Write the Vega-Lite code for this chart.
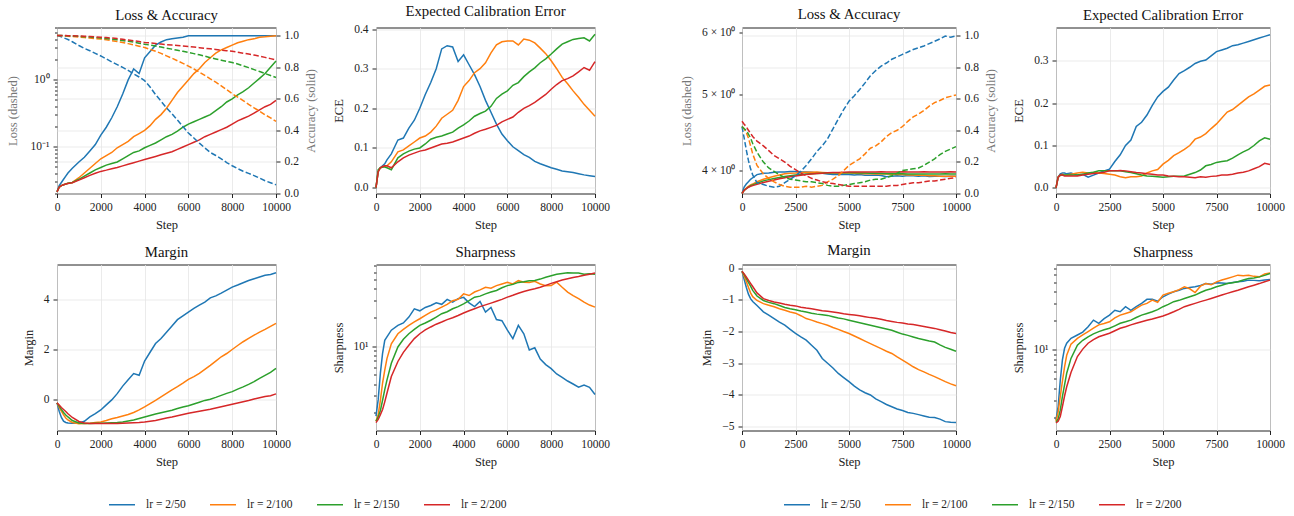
{
"$schema": "https://vega.github.io/schema/vega-lite/v6.json",
"padding": {"left": 5, "top": 2.5, "right": 8, "bottom": 3},
"background": "white",
"config": {
 "font": "Liberation Serif",
 "view": {"stroke": "#222", "strokeWidth": 1},
 "text": {"font": "Liberation Serif"},
 "style": {"group-title": {"font": "Liberation Serif", "fontSize": 14.8, "fontWeight": "normal", "fill": "#111"}, "guide-label": {"font": "Liberation Serif", "fontSize": 11.5, "fill": "#222"}, "guide-title": {"font": "Liberation Serif", "fontSize": 12.5, "fontWeight": "normal"}},
 "title": {"font": "Liberation Serif", "fontSize": 14.8, "fontWeight": "normal", "color": "#111", "anchor": "middle", "frame": "group", "baseline": "alphabetic", "offset": 4.5},
 "axis": {"labelFont": "Liberation Serif", "titleFont": "Liberation Serif", "labelFontSize": 11.5, "titleFontSize": 12.5, "labelColor": "#222", "titleColor": "#222", "titleFontWeight": "normal", "grid": true, "gridColor": "#e6e6e6", "gridWidth": 0.8, "domain": false, "ticks": true, "tickColor": "#222", "tickSize": 4, "labelPadding": 4, "labelFlush": false, "labelOverlap": false, "labelBound": false},
 "axisX": {"titlePadding": 5},
 "axisY": {"titlePadding": 8},
 "legend": {"orient": "bottom", "labelFont": "Liberation Serif", "symbolType": "stroke", "symbolStrokeWidth": 2, "symbolSize": 676, "labelFontSize": 11.5, "labelColor": "#222", "columnPadding": 21, "labelOffset": 10, "offset": 22, "layout": {"bottom": {"anchor": "middle"}}},
 "line": {"strokeWidth": 1.5}
},
"datasets": {
"A": [
{"lr":"lr = 2/50","step":0,"loss":4.6,"acc":0.01,"ece":0,"margin":-0.12,"sharp":1.84},
{"lr":"lr = 2/50","step":100,"loss":4.5,"acc":0.05,"ece":0.04,"margin":-0.45,"sharp":2.74},
{"lr":"lr = 2/50","step":200,"loss":4.38,"acc":0.07,"ece":0.05,"margin":-0.7,"sharp":5.2},
{"lr":"lr = 2/50","step":300,"loss":4.25,"acc":0.09,"ece":0.055,"margin":-0.85,"sharp":8.4},
{"lr":"lr = 2/50","step":400,"loss":4.12,"acc":0.11,"ece":0.06,"margin":-0.9,"sharp":11.5},
{"lr":"lr = 2/50","step":500,"loss":4.0,"acc":0.13,"ece":0.07,"margin":-0.92,"sharp":12.5},
{"lr":"lr = 2/50","step":700,"loss":3.7,"acc":0.16,"ece":0.085,"margin":-0.93,"sharp":14.7},
{"lr":"lr = 2/50","step":1000,"loss":3.25,"acc":0.2,"ece":0.12,"margin":-0.92,"sharp":16.5},
{"lr":"lr = 2/50","step":1250,"loss":2.95,"acc":0.23,"ece":0.125,"margin":-0.85,"sharp":17.5},
{"lr":"lr = 2/50","step":1500,"loss":2.72,"acc":0.27,"ece":0.15,"margin":-0.68,"sharp":20.2},
{"lr":"lr = 2/50","step":1750,"loss":2.48,"acc":0.31,"ece":0.17,"margin":-0.55,"sharp":24.6},
{"lr":"lr = 2/50","step":2000,"loss":2.27,"acc":0.37,"ece":0.2,"margin":-0.4,"sharp":23.5},
{"lr":"lr = 2/50","step":2250,"loss":2.05,"acc":0.42,"ece":0.235,"margin":-0.2,"sharp":25.5},
{"lr":"lr = 2/50","step":2500,"loss":1.85,"acc":0.48,"ece":0.265,"margin":0.0,"sharp":26.7},
{"lr":"lr = 2/50","step":2750,"loss":1.68,"acc":0.55,"ece":0.3,"margin":0.25,"sharp":28.5},
{"lr":"lr = 2/50","step":3000,"loss":1.53,"acc":0.63,"ece":0.35,"margin":0.55,"sharp":27.5},
{"lr":"lr = 2/50","step":3250,"loss":1.38,"acc":0.72,"ece":0.358,"margin":0.8,"sharp":31},
{"lr":"lr = 2/50","step":3500,"loss":1.22,"acc":0.79,"ece":0.355,"margin":1.05,"sharp":29},
{"lr":"lr = 2/50","step":3750,"loss":1.1,"acc":0.76,"ece":0.318,"margin":0.98,"sharp":31.5},
{"lr":"lr = 2/50","step":4000,"loss":0.97,"acc":0.86,"ece":0.335,"margin":1.55,"sharp":32.5},
{"lr":"lr = 2/50","step":4250,"loss":0.78,"acc":0.9,"ece":0.31,"margin":1.9,"sharp":28.5},
{"lr":"lr = 2/50","step":4500,"loss":0.6,"acc":0.94,"ece":0.285,"margin":2.25,"sharp":26},
{"lr":"lr = 2/50","step":4750,"loss":0.48,"acc":0.96,"ece":0.255,"margin":2.45,"sharp":29.5},
{"lr":"lr = 2/50","step":5000,"loss":0.38,"acc":0.975,"ece":0.22,"margin":2.7,"sharp":22.8},
{"lr":"lr = 2/50","step":5250,"loss":0.31,"acc":0.98,"ece":0.19,"margin":2.95,"sharp":25.5},
{"lr":"lr = 2/50","step":5500,"loss":0.25,"acc":0.985,"ece":0.16,"margin":3.2,"sharp":19},
{"lr":"lr = 2/50","step":5750,"loss":0.2,"acc":0.99,"ece":0.135,"margin":3.35,"sharp":18.5},
{"lr":"lr = 2/50","step":6000,"loss":0.16,"acc":1.0,"ece":0.118,"margin":3.5,"sharp":14.7},
{"lr":"lr = 2/50","step":6250,"loss":0.135,"acc":1.0,"ece":0.103,"margin":3.65,"sharp":12},
{"lr":"lr = 2/50","step":6500,"loss":0.113,"acc":1.0,"ece":0.093,"margin":3.78,"sharp":16.5},
{"lr":"lr = 2/50","step":6750,"loss":0.096,"acc":1.0,"ece":0.083,"margin":3.9,"sharp":13.5},
{"lr":"lr = 2/50","step":7000,"loss":0.082,"acc":1.0,"ece":0.076,"margin":4.07,"sharp":9.1},
{"lr":"lr = 2/50","step":7250,"loss":0.074,"acc":1.0,"ece":0.066,"margin":4.15,"sharp":9.6},
{"lr":"lr = 2/50","step":7500,"loss":0.066,"acc":1.0,"ece":0.06,"margin":4.26,"sharp":7.3},
{"lr":"lr = 2/50","step":7750,"loss":0.058,"acc":1.0,"ece":0.055,"margin":4.38,"sharp":6.4},
{"lr":"lr = 2/50","step":8000,"loss":0.052,"acc":1.0,"ece":0.05,"margin":4.5,"sharp":5.8},
{"lr":"lr = 2/50","step":8250,"loss":0.047,"acc":1.0,"ece":0.046,"margin":4.58,"sharp":5.1},
{"lr":"lr = 2/50","step":8500,"loss":0.043,"acc":1.0,"ece":0.042,"margin":4.67,"sharp":4.7},
{"lr":"lr = 2/50","step":8750,"loss":0.04,"acc":1.0,"ece":0.04,"margin":4.76,"sharp":4.3},
{"lr":"lr = 2/50","step":9000,"loss":0.037,"acc":1.0,"ece":0.038,"margin":4.83,"sharp":4.0},
{"lr":"lr = 2/50","step":9250,"loss":0.034,"acc":1.0,"ece":0.035,"margin":4.9,"sharp":3.7},
{"lr":"lr = 2/50","step":9500,"loss":0.031,"acc":1.0,"ece":0.032,"margin":4.97,"sharp":3.9},
{"lr":"lr = 2/50","step":9750,"loss":0.029,"acc":1.0,"ece":0.03,"margin":5.0,"sharp":3.7},
{"lr":"lr = 2/50","step":10000,"loss":0.027,"acc":1.0,"ece":0.028,"margin":5.07,"sharp":3.1},
{"lr":"lr = 2/100","step":0,"loss":4.6,"acc":0.01,"ece":0,"margin":-0.12,"sharp":1.63},
{"lr":"lr = 2/100","step":100,"loss":4.58,"acc":0.04,"ece":0.04,"margin":-0.3,"sharp":1.9},
{"lr":"lr = 2/100","step":200,"loss":4.55,"acc":0.05,"ece":0.05,"margin":-0.45,"sharp":2.7},
{"lr":"lr = 2/100","step":300,"loss":4.52,"acc":0.055,"ece":0.052,"margin":-0.6,"sharp":4.1},
{"lr":"lr = 2/100","step":400,"loss":4.5,"acc":0.06,"ece":0.054,"margin":-0.72,"sharp":5.6},
{"lr":"lr = 2/100","step":500,"loss":4.47,"acc":0.065,"ece":0.055,"margin":-0.8,"sharp":7.4},
{"lr":"lr = 2/100","step":700,"loss":4.42,"acc":0.07,"ece":0.065,"margin":-0.9,"sharp":10.6},
{"lr":"lr = 2/100","step":1000,"loss":4.35,"acc":0.1,"ece":0.09,"margin":-0.95,"sharp":13.5},
{"lr":"lr = 2/100","step":1250,"loss":4.28,"acc":0.13,"ece":0.095,"margin":-0.94,"sharp":15},
{"lr":"lr = 2/100","step":1500,"loss":4.2,"acc":0.16,"ece":0.105,"margin":-0.93,"sharp":16.5},
{"lr":"lr = 2/100","step":1750,"loss":4.12,"acc":0.19,"ece":0.115,"margin":-0.9,"sharp":18},
{"lr":"lr = 2/100","step":2000,"loss":4.05,"acc":0.22,"ece":0.125,"margin":-0.88,"sharp":19.4},
{"lr":"lr = 2/100","step":2250,"loss":3.95,"acc":0.24,"ece":0.13,"margin":-0.82,"sharp":21},
{"lr":"lr = 2/100","step":2500,"loss":3.85,"acc":0.26,"ece":0.14,"margin":-0.75,"sharp":22.8},
{"lr":"lr = 2/100","step":2750,"loss":3.72,"acc":0.29,"ece":0.155,"margin":-0.7,"sharp":24},
{"lr":"lr = 2/100","step":3000,"loss":3.6,"acc":0.31,"ece":0.175,"margin":-0.64,"sharp":25.7},
{"lr":"lr = 2/100","step":3250,"loss":3.47,"acc":0.33,"ece":0.185,"margin":-0.58,"sharp":27.5},
{"lr":"lr = 2/100","step":3500,"loss":3.33,"acc":0.36,"ece":0.195,"margin":-0.5,"sharp":30},
{"lr":"lr = 2/100","step":3750,"loss":3.18,"acc":0.38,"ece":0.22,"margin":-0.4,"sharp":31},
{"lr":"lr = 2/100","step":4000,"loss":3.03,"acc":0.4,"ece":0.255,"margin":-0.28,"sharp":35.4},
{"lr":"lr = 2/100","step":4250,"loss":2.85,"acc":0.43,"ece":0.27,"margin":-0.15,"sharp":34},
{"lr":"lr = 2/100","step":4500,"loss":2.67,"acc":0.47,"ece":0.29,"margin":-0.02,"sharp":37},
{"lr":"lr = 2/100","step":4750,"loss":2.48,"acc":0.5,"ece":0.3,"margin":0.12,"sharp":39},
{"lr":"lr = 2/100","step":5000,"loss":2.28,"acc":0.54,"ece":0.315,"margin":0.26,"sharp":41.5},
{"lr":"lr = 2/100","step":5250,"loss":2.1,"acc":0.59,"ece":0.34,"margin":0.4,"sharp":40.5},
{"lr":"lr = 2/100","step":5500,"loss":1.92,"acc":0.64,"ece":0.36,"margin":0.53,"sharp":43.2},
{"lr":"lr = 2/100","step":5750,"loss":1.76,"acc":0.68,"ece":0.368,"margin":0.67,"sharp":45},
{"lr":"lr = 2/100","step":6000,"loss":1.6,"acc":0.72,"ece":0.37,"margin":0.82,"sharp":46.7},
{"lr":"lr = 2/100","step":6250,"loss":1.45,"acc":0.76,"ece":0.37,"margin":0.93,"sharp":45},
{"lr":"lr = 2/100","step":6500,"loss":1.3,"acc":0.79,"ece":0.36,"margin":1.06,"sharp":48.7},
{"lr":"lr = 2/100","step":6750,"loss":1.16,"acc":0.83,"ece":0.375,"margin":1.22,"sharp":47},
{"lr":"lr = 2/100","step":7000,"loss":1.03,"acc":0.86,"ece":0.372,"margin":1.38,"sharp":46.7},
{"lr":"lr = 2/100","step":7250,"loss":0.92,"acc":0.89,"ece":0.365,"margin":1.55,"sharp":48},
{"lr":"lr = 2/100","step":7500,"loss":0.81,"acc":0.91,"ece":0.352,"margin":1.72,"sharp":45},
{"lr":"lr = 2/100","step":7750,"loss":0.71,"acc":0.925,"ece":0.338,"margin":1.85,"sharp":43},
{"lr":"lr = 2/100","step":8000,"loss":0.62,"acc":0.94,"ece":0.32,"margin":2.01,"sharp":43.2},
{"lr":"lr = 2/100","step":8250,"loss":0.55,"acc":0.955,"ece":0.3,"margin":2.17,"sharp":47},
{"lr":"lr = 2/100","step":8500,"loss":0.49,"acc":0.965,"ece":0.278,"margin":2.32,"sharp":41.5},
{"lr":"lr = 2/100","step":8750,"loss":0.43,"acc":0.975,"ece":0.262,"margin":2.45,"sharp":37},
{"lr":"lr = 2/100","step":9000,"loss":0.38,"acc":0.98,"ece":0.244,"margin":2.58,"sharp":34},
{"lr":"lr = 2/100","step":9250,"loss":0.34,"acc":0.99,"ece":0.228,"margin":2.7,"sharp":31.5},
{"lr":"lr = 2/100","step":9500,"loss":0.3,"acc":0.993,"ece":0.21,"margin":2.81,"sharp":29},
{"lr":"lr = 2/100","step":9750,"loss":0.27,"acc":0.997,"ece":0.195,"margin":2.93,"sharp":27},
{"lr":"lr = 2/100","step":10000,"loss":0.24,"acc":1.0,"ece":0.18,"margin":3.05,"sharp":25.7},
{"lr":"lr = 2/150","step":0,"loss":4.6,"acc":0.01,"ece":0,"margin":-0.12,"sharp":1.63},
{"lr":"lr = 2/150","step":100,"loss":4.59,"acc":0.04,"ece":0.045,"margin":-0.25,"sharp":1.8},
{"lr":"lr = 2/150","step":200,"loss":4.58,"acc":0.05,"ece":0.05,"margin":-0.38,"sharp":2.1},
{"lr":"lr = 2/150","step":300,"loss":4.56,"acc":0.055,"ece":0.052,"margin":-0.5,"sharp":2.7},
{"lr":"lr = 2/150","step":400,"loss":4.55,"acc":0.06,"ece":0.052,"margin":-0.6,"sharp":3.5},
{"lr":"lr = 2/150","step":500,"loss":4.53,"acc":0.065,"ece":0.05,"margin":-0.68,"sharp":4.4},
{"lr":"lr = 2/150","step":700,"loss":4.5,"acc":0.07,"ece":0.045,"margin":-0.82,"sharp":6.6},
{"lr":"lr = 2/150","step":1000,"loss":4.45,"acc":0.09,"ece":0.075,"margin":-0.92,"sharp":9.8},
{"lr":"lr = 2/150","step":1250,"loss":4.4,"acc":0.11,"ece":0.085,"margin":-0.94,"sharp":11.8},
{"lr":"lr = 2/150","step":1500,"loss":4.35,"acc":0.13,"ece":0.092,"margin":-0.94,"sharp":13.5},
{"lr":"lr = 2/150","step":1750,"loss":4.28,"acc":0.15,"ece":0.097,"margin":-0.93,"sharp":15},
{"lr":"lr = 2/150","step":2000,"loss":4.2,"acc":0.165,"ece":0.1,"margin":-0.93,"sharp":16.5},
{"lr":"lr = 2/150","step":2250,"loss":4.12,"acc":0.18,"ece":0.11,"margin":-0.92,"sharp":17.5},
{"lr":"lr = 2/150","step":2500,"loss":4.03,"acc":0.19,"ece":0.122,"margin":-0.91,"sharp":18.7},
{"lr":"lr = 2/150","step":2750,"loss":3.95,"acc":0.2,"ece":0.127,"margin":-0.9,"sharp":20.2},
{"lr":"lr = 2/150","step":3000,"loss":3.85,"acc":0.22,"ece":0.13,"margin":-0.88,"sharp":21.9},
{"lr":"lr = 2/150","step":3250,"loss":3.75,"acc":0.24,"ece":0.135,"margin":-0.84,"sharp":23},
{"lr":"lr = 2/150","step":3500,"loss":3.65,"acc":0.26,"ece":0.14,"margin":-0.8,"sharp":24.7},
{"lr":"lr = 2/150","step":3750,"loss":3.52,"acc":0.27,"ece":0.15,"margin":-0.74,"sharp":26},
{"lr":"lr = 2/150","step":4000,"loss":3.4,"acc":0.29,"ece":0.158,"margin":-0.68,"sharp":27.8},
{"lr":"lr = 2/150","step":4250,"loss":3.3,"acc":0.305,"ece":0.168,"margin":-0.62,"sharp":30},
{"lr":"lr = 2/150","step":4500,"loss":3.2,"acc":0.32,"ece":0.18,"margin":-0.56,"sharp":32.7},
{"lr":"lr = 2/150","step":4750,"loss":3.08,"acc":0.34,"ece":0.187,"margin":-0.51,"sharp":33.5},
{"lr":"lr = 2/150","step":5000,"loss":2.97,"acc":0.36,"ece":0.193,"margin":-0.46,"sharp":35.4},
{"lr":"lr = 2/150","step":5250,"loss":2.87,"acc":0.375,"ece":0.205,"margin":-0.41,"sharp":37},
{"lr":"lr = 2/150","step":5500,"loss":2.76,"acc":0.395,"ece":0.225,"margin":-0.34,"sharp":38.4},
{"lr":"lr = 2/150","step":5750,"loss":2.66,"acc":0.42,"ece":0.236,"margin":-0.28,"sharp":41},
{"lr":"lr = 2/150","step":6000,"loss":2.56,"acc":0.44,"ece":0.244,"margin":-0.23,"sharp":43.2},
{"lr":"lr = 2/150","step":6250,"loss":2.46,"acc":0.455,"ece":0.258,"margin":-0.16,"sharp":44.5},
{"lr":"lr = 2/150","step":6500,"loss":2.36,"acc":0.47,"ece":0.265,"margin":-0.09,"sharp":46.7},
{"lr":"lr = 2/150","step":6750,"loss":2.25,"acc":0.485,"ece":0.28,"margin":-0.02,"sharp":47.5},
{"lr":"lr = 2/150","step":7000,"loss":2.14,"acc":0.5,"ece":0.292,"margin":0.03,"sharp":48.7},
{"lr":"lr = 2/150","step":7250,"loss":2.05,"acc":0.525,"ece":0.302,"margin":0.1,"sharp":49},
{"lr":"lr = 2/150","step":7500,"loss":1.96,"acc":0.55,"ece":0.315,"margin":0.18,"sharp":50.6},
{"lr":"lr = 2/150","step":7750,"loss":1.88,"acc":0.58,"ece":0.325,"margin":0.26,"sharp":53},
{"lr":"lr = 2/150","step":8000,"loss":1.81,"acc":0.6,"ece":0.337,"margin":0.33,"sharp":54.9},
{"lr":"lr = 2/150","step":8250,"loss":1.72,"acc":0.625,"ece":0.35,"margin":0.43,"sharp":57},
{"lr":"lr = 2/150","step":8500,"loss":1.62,"acc":0.645,"ece":0.362,"margin":0.52,"sharp":58},
{"lr":"lr = 2/150","step":8750,"loss":1.52,"acc":0.67,"ece":0.368,"margin":0.62,"sharp":59},
{"lr":"lr = 2/150","step":9000,"loss":1.42,"acc":0.7,"ece":0.374,"margin":0.73,"sharp":58.5},
{"lr":"lr = 2/150","step":9250,"loss":1.33,"acc":0.73,"ece":0.376,"margin":0.86,"sharp":58.5},
{"lr":"lr = 2/150","step":9500,"loss":1.24,"acc":0.76,"ece":0.378,"margin":0.98,"sharp":57},
{"lr":"lr = 2/150","step":9750,"loss":1.16,"acc":0.8,"ece":0.37,"margin":1.1,"sharp":57.5},
{"lr":"lr = 2/150","step":10000,"loss":1.08,"acc":0.84,"ece":0.387,"margin":1.26,"sharp":57},
{"lr":"lr = 2/200","step":0,"loss":4.6,"acc":0.01,"ece":0,"margin":-0.12,"sharp":1.57},
{"lr":"lr = 2/200","step":100,"loss":4.6,"acc":0.04,"ece":0.04,"margin":-0.2,"sharp":1.7},
{"lr":"lr = 2/200","step":200,"loss":4.59,"acc":0.05,"ece":0.05,"margin":-0.3,"sharp":1.9},
{"lr":"lr = 2/200","step":300,"loss":4.58,"acc":0.055,"ece":0.053,"margin":-0.38,"sharp":2.16},
{"lr":"lr = 2/200","step":400,"loss":4.57,"acc":0.06,"ece":0.055,"margin":-0.46,"sharp":2.6},
{"lr":"lr = 2/200","step":500,"loss":4.56,"acc":0.063,"ece":0.055,"margin":-0.55,"sharp":3.2},
{"lr":"lr = 2/200","step":700,"loss":4.54,"acc":0.068,"ece":0.05,"margin":-0.7,"sharp":4.8},
{"lr":"lr = 2/200","step":1000,"loss":4.5,"acc":0.085,"ece":0.065,"margin":-0.86,"sharp":6.9},
{"lr":"lr = 2/200","step":1250,"loss":4.47,"acc":0.1,"ece":0.075,"margin":-0.92,"sharp":8.6},
{"lr":"lr = 2/200","step":1500,"loss":4.43,"acc":0.115,"ece":0.082,"margin":-0.94,"sharp":10.2},
{"lr":"lr = 2/200","step":1750,"loss":4.38,"acc":0.128,"ece":0.087,"margin":-0.94,"sharp":12},
{"lr":"lr = 2/200","step":2000,"loss":4.33,"acc":0.14,"ece":0.092,"margin":-0.94,"sharp":13.5},
{"lr":"lr = 2/200","step":2250,"loss":4.27,"acc":0.148,"ece":0.095,"margin":-0.94,"sharp":14.8},
{"lr":"lr = 2/200","step":2500,"loss":4.2,"acc":0.157,"ece":0.1,"margin":-0.94,"sharp":15.9},
{"lr":"lr = 2/200","step":2750,"loss":4.12,"acc":0.165,"ece":0.105,"margin":-0.94,"sharp":17},
{"lr":"lr = 2/200","step":3000,"loss":4.03,"acc":0.175,"ece":0.11,"margin":-0.93,"sharp":17.9},
{"lr":"lr = 2/200","step":3250,"loss":3.93,"acc":0.185,"ece":0.112,"margin":-0.92,"sharp":19},
{"lr":"lr = 2/200","step":3500,"loss":3.83,"acc":0.195,"ece":0.115,"margin":-0.91,"sharp":19.9},
{"lr":"lr = 2/200","step":3750,"loss":3.72,"acc":0.205,"ece":0.12,"margin":-0.9,"sharp":21},
{"lr":"lr = 2/200","step":4000,"loss":3.62,"acc":0.215,"ece":0.125,"margin":-0.88,"sharp":22.3},
{"lr":"lr = 2/200","step":4250,"loss":3.55,"acc":0.225,"ece":0.13,"margin":-0.85,"sharp":23.5},
{"lr":"lr = 2/200","step":4500,"loss":3.48,"acc":0.235,"ece":0.137,"margin":-0.82,"sharp":24.7},
{"lr":"lr = 2/200","step":4750,"loss":3.41,"acc":0.245,"ece":0.143,"margin":-0.77,"sharp":26},
{"lr":"lr = 2/200","step":5000,"loss":3.35,"acc":0.255,"ece":0.147,"margin":-0.72,"sharp":27.1},
{"lr":"lr = 2/200","step":5250,"loss":3.3,"acc":0.265,"ece":0.152,"margin":-0.68,"sharp":28.3},
{"lr":"lr = 2/200","step":5500,"loss":3.25,"acc":0.28,"ece":0.157,"margin":-0.63,"sharp":29.6},
{"lr":"lr = 2/200","step":5750,"loss":3.2,"acc":0.295,"ece":0.166,"margin":-0.58,"sharp":31},
{"lr":"lr = 2/200","step":6000,"loss":3.15,"acc":0.31,"ece":0.172,"margin":-0.53,"sharp":32.7},
{"lr":"lr = 2/200","step":6250,"loss":3.08,"acc":0.325,"ece":0.178,"margin":-0.49,"sharp":34.2},
{"lr":"lr = 2/200","step":6500,"loss":3.02,"acc":0.34,"ece":0.19,"margin":-0.45,"sharp":35.9},
{"lr":"lr = 2/200","step":6750,"loss":2.96,"acc":0.36,"ece":0.2,"margin":-0.41,"sharp":37.5},
{"lr":"lr = 2/200","step":7000,"loss":2.9,"acc":0.375,"ece":0.207,"margin":-0.37,"sharp":38.9},
{"lr":"lr = 2/200","step":7250,"loss":2.84,"acc":0.39,"ece":0.215,"margin":-0.32,"sharp":40},
{"lr":"lr = 2/200","step":7500,"loss":2.78,"acc":0.405,"ece":0.225,"margin":-0.27,"sharp":41.5},
{"lr":"lr = 2/200","step":7750,"loss":2.72,"acc":0.42,"ece":0.235,"margin":-0.22,"sharp":43.5},
{"lr":"lr = 2/200","step":8000,"loss":2.66,"acc":0.44,"ece":0.248,"margin":-0.17,"sharp":45.6},
{"lr":"lr = 2/200","step":8250,"loss":2.58,"acc":0.46,"ece":0.26,"margin":-0.12,"sharp":47.5},
{"lr":"lr = 2/200","step":8500,"loss":2.5,"acc":0.475,"ece":0.27,"margin":-0.07,"sharp":49.4},
{"lr":"lr = 2/200","step":8750,"loss":2.42,"acc":0.49,"ece":0.275,"margin":-0.02,"sharp":51},
{"lr":"lr = 2/200","step":9000,"loss":2.34,"acc":0.51,"ece":0.282,"margin":0.04,"sharp":52.7},
{"lr":"lr = 2/200","step":9250,"loss":2.25,"acc":0.53,"ece":0.292,"margin":0.09,"sharp":54},
{"lr":"lr = 2/200","step":9500,"loss":2.16,"acc":0.55,"ece":0.303,"margin":0.14,"sharp":55.6},
{"lr":"lr = 2/200","step":9750,"loss":2.07,"acc":0.565,"ece":0.296,"margin":0.17,"sharp":57},
{"lr":"lr = 2/200","step":10000,"loss":1.99,"acc":0.59,"ece":0.318,"margin":0.24,"sharp":58.5}
],
"B": [
{"lr":"lr = 2/50","step":0,"loss":4.55,"acc":0,"ece":0,"margin":-0.1,"sharp":1.88},
{"lr":"lr = 2/50","step":100,"loss":4.4,"acc":0.04,"ece":0.025,"margin":-0.35,"sharp":2.59},
{"lr":"lr = 2/50","step":200,"loss":4.25,"acc":0.06,"ece":0.033,"margin":-0.6,"sharp":4.85},
{"lr":"lr = 2/50","step":300,"loss":4.12,"acc":0.075,"ece":0.035,"margin":-0.82,"sharp":7.9},
{"lr":"lr = 2/50","step":400,"loss":4.02,"acc":0.09,"ece":0.035,"margin":-0.96,"sharp":10.4},
{"lr":"lr = 2/50","step":500,"loss":3.95,"acc":0.1,"ece":0.033,"margin":-1.05,"sharp":11.75},
{"lr":"lr = 2/50","step":700,"loss":3.86,"acc":0.12,"ece":0.035,"margin":-1.18,"sharp":13.2},
{"lr":"lr = 2/50","step":1000,"loss":3.84,"acc":0.128,"ece":0.03,"margin":-1.38,"sharp":14.3},
{"lr":"lr = 2/50","step":1250,"loss":3.82,"acc":0.13,"ece":0.032,"margin":-1.48,"sharp":15.3},
{"lr":"lr = 2/50","step":1500,"loss":3.81,"acc":0.135,"ece":0.025,"margin":-1.59,"sharp":17.4},
{"lr":"lr = 2/50","step":1750,"loss":3.82,"acc":0.137,"ece":0.03,"margin":-1.7,"sharp":20.4},
{"lr":"lr = 2/50","step":2000,"loss":3.86,"acc":0.137,"ece":0.035,"margin":-1.8,"sharp":18.9},
{"lr":"lr = 2/50","step":2250,"loss":3.9,"acc":0.14,"ece":0.04,"margin":-1.93,"sharp":21.1},
{"lr":"lr = 2/50","step":2500,"loss":3.94,"acc":0.14,"ece":0.044,"margin":-2.06,"sharp":23.0},
{"lr":"lr = 2/50","step":2750,"loss":3.99,"acc":0.138,"ece":0.062,"margin":-2.17,"sharp":25.8},
{"lr":"lr = 2/50","step":3000,"loss":4.06,"acc":0.137,"ece":0.078,"margin":-2.27,"sharp":24.9},
{"lr":"lr = 2/50","step":3250,"loss":4.14,"acc":0.135,"ece":0.1,"margin":-2.43,"sharp":28.1},
{"lr":"lr = 2/50","step":3500,"loss":4.23,"acc":0.13,"ece":0.113,"margin":-2.59,"sharp":25.8},
{"lr":"lr = 2/50","step":3750,"loss":4.3,"acc":0.128,"ece":0.145,"margin":-2.85,"sharp":28.1},
{"lr":"lr = 2/50","step":4000,"loss":4.39,"acc":0.124,"ece":0.155,"margin":-3.0,"sharp":30.4},
{"lr":"lr = 2/50","step":4250,"loss":4.52,"acc":0.12,"ece":0.172,"margin":-3.15,"sharp":33.5},
{"lr":"lr = 2/50","step":4500,"loss":4.65,"acc":0.12,"ece":0.195,"margin":-3.32,"sharp":33.5},
{"lr":"lr = 2/50","step":4750,"loss":4.78,"acc":0.122,"ece":0.215,"margin":-3.45,"sharp":32.0},
{"lr":"lr = 2/50","step":5000,"loss":4.9,"acc":0.12,"ece":0.228,"margin":-3.58,"sharp":35.6},
{"lr":"lr = 2/50","step":5250,"loss":4.98,"acc":0.118,"ece":0.238,"margin":-3.72,"sharp":37.9},
{"lr":"lr = 2/50","step":5500,"loss":5.07,"acc":0.12,"ece":0.255,"margin":-3.84,"sharp":40.1},
{"lr":"lr = 2/50","step":5750,"loss":5.17,"acc":0.116,"ece":0.27,"margin":-3.93,"sharp":41.6},
{"lr":"lr = 2/50","step":6000,"loss":5.28,"acc":0.116,"ece":0.277,"margin":-4.0,"sharp":43.5},
{"lr":"lr = 2/50","step":6250,"loss":5.36,"acc":0.118,"ece":0.285,"margin":-4.12,"sharp":44.5},
{"lr":"lr = 2/50","step":6500,"loss":5.43,"acc":0.114,"ece":0.294,"margin":-4.21,"sharp":45.2},
{"lr":"lr = 2/50","step":6750,"loss":5.48,"acc":0.106,"ece":0.299,"margin":-4.3,"sharp":46.7},
{"lr":"lr = 2/50","step":7000,"loss":5.54,"acc":0.11,"ece":0.302,"margin":-4.37,"sharp":48.8},
{"lr":"lr = 2/50","step":7250,"loss":5.58,"acc":0.112,"ece":0.312,"margin":-4.44,"sharp":48.1},
{"lr":"lr = 2/50","step":7500,"loss":5.62,"acc":0.11,"ece":0.322,"margin":-4.49,"sharp":49.7},
{"lr":"lr = 2/50","step":7750,"loss":5.66,"acc":0.114,"ece":0.326,"margin":-4.55,"sharp":49.5},
{"lr":"lr = 2/50","step":8000,"loss":5.7,"acc":0.113,"ece":0.33,"margin":-4.58,"sharp":48.8},
{"lr":"lr = 2/50","step":8250,"loss":5.73,"acc":0.11,"ece":0.336,"margin":-4.62,"sharp":50.2},
{"lr":"lr = 2/50","step":8500,"loss":5.76,"acc":0.112,"ece":0.338,"margin":-4.66,"sharp":50.9},
{"lr":"lr = 2/50","step":8750,"loss":5.8,"acc":0.108,"ece":0.342,"margin":-4.7,"sharp":51.7},
{"lr":"lr = 2/50","step":9000,"loss":5.84,"acc":0.11,"ece":0.346,"margin":-4.71,"sharp":53.0},
{"lr":"lr = 2/50","step":9250,"loss":5.88,"acc":0.11,"ece":0.35,"margin":-4.76,"sharp":52.7},
{"lr":"lr = 2/50","step":9500,"loss":5.93,"acc":0.108,"ece":0.354,"margin":-4.84,"sharp":52.1},
{"lr":"lr = 2/50","step":9750,"loss":5.91,"acc":0.11,"ece":0.358,"margin":-4.86,"sharp":53.1},
{"lr":"lr = 2/50","step":10000,"loss":5.93,"acc":0.11,"ece":0.362,"margin":-4.87,"sharp":53.8},
{"lr":"lr = 2/100","step":0,"loss":4.55,"acc":0,"ece":0,"margin":-0.1,"sharp":1.82},
{"lr":"lr = 2/100","step":100,"loss":4.52,"acc":0.02,"ece":0.025,"margin":-0.25,"sharp":2.26},
{"lr":"lr = 2/100","step":200,"loss":4.47,"acc":0.035,"ece":0.03,"margin":-0.42,"sharp":3.29},
{"lr":"lr = 2/100","step":300,"loss":4.4,"acc":0.045,"ece":0.032,"margin":-0.6,"sharp":4.75},
{"lr":"lr = 2/100","step":400,"loss":4.3,"acc":0.055,"ece":0.03,"margin":-0.78,"sharp":6.68},
{"lr":"lr = 2/100","step":500,"loss":4.2,"acc":0.06,"ece":0.03,"margin":-0.9,"sharp":8.81},
{"lr":"lr = 2/100","step":700,"loss":4.06,"acc":0.075,"ece":0.032,"margin":-1.02,"sharp":11.5},
{"lr":"lr = 2/100","step":1000,"loss":3.96,"acc":0.09,"ece":0.035,"margin":-1.12,"sharp":13.2},
{"lr":"lr = 2/100","step":1250,"loss":3.91,"acc":0.1,"ece":0.037,"margin":-1.17,"sharp":14.3},
{"lr":"lr = 2/100","step":1500,"loss":3.87,"acc":0.11,"ece":0.035,"margin":-1.22,"sharp":15.5},
{"lr":"lr = 2/100","step":1750,"loss":3.84,"acc":0.118,"ece":0.036,"margin":-1.28,"sharp":16.8},
{"lr":"lr = 2/100","step":2000,"loss":3.82,"acc":0.125,"ece":0.035,"margin":-1.33,"sharp":18.2},
{"lr":"lr = 2/100","step":2250,"loss":3.81,"acc":0.128,"ece":0.034,"margin":-1.38,"sharp":18.8},
{"lr":"lr = 2/100","step":2500,"loss":3.81,"acc":0.13,"ece":0.032,"margin":-1.42,"sharp":19.6},
{"lr":"lr = 2/100","step":2750,"loss":3.81,"acc":0.133,"ece":0.03,"margin":-1.5,"sharp":21.5},
{"lr":"lr = 2/100","step":3000,"loss":3.82,"acc":0.135,"ece":0.026,"margin":-1.59,"sharp":23.0},
{"lr":"lr = 2/100","step":3250,"loss":3.81,"acc":0.135,"ece":0.024,"margin":-1.64,"sharp":23.9},
{"lr":"lr = 2/100","step":3500,"loss":3.82,"acc":0.136,"ece":0.026,"margin":-1.7,"sharp":24.9},
{"lr":"lr = 2/100","step":3750,"loss":3.83,"acc":0.134,"ece":0.026,"margin":-1.75,"sharp":27.0},
{"lr":"lr = 2/100","step":4000,"loss":3.87,"acc":0.132,"ece":0.028,"margin":-1.8,"sharp":29.2},
{"lr":"lr = 2/100","step":4250,"loss":3.9,"acc":0.13,"ece":0.035,"margin":-1.87,"sharp":30.4},
{"lr":"lr = 2/100","step":4500,"loss":3.94,"acc":0.131,"ece":0.04,"margin":-1.93,"sharp":32.9},
{"lr":"lr = 2/100","step":4750,"loss":4.0,"acc":0.13,"ece":0.043,"margin":-2.0,"sharp":31.2},
{"lr":"lr = 2/100","step":5000,"loss":4.06,"acc":0.13,"ece":0.056,"margin":-2.06,"sharp":37.1},
{"lr":"lr = 2/100","step":5250,"loss":4.1,"acc":0.128,"ece":0.065,"margin":-2.14,"sharp":38.7},
{"lr":"lr = 2/100","step":5500,"loss":4.14,"acc":0.127,"ece":0.076,"margin":-2.22,"sharp":40.1},
{"lr":"lr = 2/100","step":5750,"loss":4.2,"acc":0.126,"ece":0.083,"margin":-2.3,"sharp":42.3},
{"lr":"lr = 2/100","step":6000,"loss":4.27,"acc":0.125,"ece":0.091,"margin":-2.38,"sharp":45.2},
{"lr":"lr = 2/100","step":6250,"loss":4.3,"acc":0.124,"ece":0.1,"margin":-2.46,"sharp":43.1},
{"lr":"lr = 2/100","step":6500,"loss":4.35,"acc":0.125,"ece":0.115,"margin":-2.54,"sharp":39.4},
{"lr":"lr = 2/100","step":6750,"loss":4.42,"acc":0.123,"ece":0.12,"margin":-2.62,"sharp":45.9},
{"lr":"lr = 2/100","step":7000,"loss":4.47,"acc":0.122,"ece":0.128,"margin":-2.69,"sharp":48.8},
{"lr":"lr = 2/100","step":7250,"loss":4.5,"acc":0.12,"ece":0.14,"margin":-2.8,"sharp":47.4},
{"lr":"lr = 2/100","step":7500,"loss":4.55,"acc":0.12,"ece":0.151,"margin":-2.9,"sharp":50.9},
{"lr":"lr = 2/100","step":7750,"loss":4.62,"acc":0.118,"ece":0.165,"margin":-3.0,"sharp":53.1},
{"lr":"lr = 2/100","step":8000,"loss":4.68,"acc":0.118,"ece":0.179,"margin":-3.11,"sharp":55.1},
{"lr":"lr = 2/100","step":8250,"loss":4.72,"acc":0.115,"ece":0.185,"margin":-3.2,"sharp":57.3},
{"lr":"lr = 2/100","step":8500,"loss":4.77,"acc":0.115,"ece":0.195,"margin":-3.27,"sharp":59.7},
{"lr":"lr = 2/100","step":8750,"loss":4.83,"acc":0.113,"ece":0.205,"margin":-3.35,"sharp":58.7},
{"lr":"lr = 2/100","step":9000,"loss":4.88,"acc":0.112,"ece":0.215,"margin":-3.42,"sharp":59.7},
{"lr":"lr = 2/100","step":9250,"loss":4.91,"acc":0.11,"ece":0.222,"margin":-3.5,"sharp":58.0},
{"lr":"lr = 2/100","step":9500,"loss":4.95,"acc":0.11,"ece":0.231,"margin":-3.58,"sharp":57.3},
{"lr":"lr = 2/100","step":9750,"loss":4.97,"acc":0.11,"ece":0.24,"margin":-3.65,"sharp":61.4},
{"lr":"lr = 2/100","step":10000,"loss":4.99,"acc":0.11,"ece":0.243,"margin":-3.71,"sharp":62.8},
{"lr":"lr = 2/150","step":0,"loss":4.55,"acc":0,"ece":0,"margin":-0.1,"sharp":1.77},
{"lr":"lr = 2/150","step":100,"loss":4.52,"acc":0.02,"ece":0.025,"margin":-0.2,"sharp":1.93},
{"lr":"lr = 2/150","step":200,"loss":4.5,"acc":0.03,"ece":0.03,"margin":-0.32,"sharp":2.37},
{"lr":"lr = 2/150","step":300,"loss":4.45,"acc":0.04,"ece":0.03,"margin":-0.45,"sharp":3.29},
{"lr":"lr = 2/150","step":400,"loss":4.4,"acc":0.05,"ece":0.03,"margin":-0.57,"sharp":4.35},
{"lr":"lr = 2/150","step":500,"loss":4.33,"acc":0.055,"ece":0.03,"margin":-0.7,"sharp":5.73},
{"lr":"lr = 2/150","step":700,"loss":4.22,"acc":0.065,"ece":0.03,"margin":-0.88,"sharp":8.17},
{"lr":"lr = 2/150","step":1000,"loss":4.1,"acc":0.08,"ece":0.03,"margin":-1.02,"sharp":11.2},
{"lr":"lr = 2/150","step":1250,"loss":4.03,"acc":0.088,"ece":0.032,"margin":-1.08,"sharp":12.6},
{"lr":"lr = 2/150","step":1500,"loss":3.99,"acc":0.095,"ece":0.035,"margin":-1.12,"sharp":13.7},
{"lr":"lr = 2/150","step":1750,"loss":3.95,"acc":0.102,"ece":0.037,"margin":-1.18,"sharp":14.7},
{"lr":"lr = 2/150","step":2000,"loss":3.92,"acc":0.108,"ece":0.04,"margin":-1.24,"sharp":15.5},
{"lr":"lr = 2/150","step":2250,"loss":3.9,"acc":0.113,"ece":0.04,"margin":-1.28,"sharp":16.2},
{"lr":"lr = 2/150","step":2500,"loss":3.89,"acc":0.117,"ece":0.04,"margin":-1.31,"sharp":16.8},
{"lr":"lr = 2/150","step":2750,"loss":3.88,"acc":0.12,"ece":0.04,"margin":-1.35,"sharp":17.8},
{"lr":"lr = 2/150","step":3000,"loss":3.87,"acc":0.123,"ece":0.04,"margin":-1.38,"sharp":18.9},
{"lr":"lr = 2/150","step":3250,"loss":3.87,"acc":0.125,"ece":0.038,"margin":-1.42,"sharp":19.6},
{"lr":"lr = 2/150","step":3500,"loss":3.86,"acc":0.127,"ece":0.036,"margin":-1.45,"sharp":20.4},
{"lr":"lr = 2/150","step":3750,"loss":3.85,"acc":0.129,"ece":0.033,"margin":-1.47,"sharp":21.7},
{"lr":"lr = 2/150","step":4000,"loss":3.83,"acc":0.13,"ece":0.03,"margin":-1.49,"sharp":23.0},
{"lr":"lr = 2/150","step":4250,"loss":3.82,"acc":0.131,"ece":0.028,"margin":-1.53,"sharp":23.9},
{"lr":"lr = 2/150","step":4500,"loss":3.82,"acc":0.131,"ece":0.027,"margin":-1.57,"sharp":24.9},
{"lr":"lr = 2/150","step":4750,"loss":3.83,"acc":0.132,"ece":0.026,"margin":-1.6,"sharp":26.2},
{"lr":"lr = 2/150","step":5000,"loss":3.84,"acc":0.132,"ece":0.025,"margin":-1.64,"sharp":28.1},
{"lr":"lr = 2/150","step":5250,"loss":3.85,"acc":0.131,"ece":0.026,"margin":-1.68,"sharp":29.7},
{"lr":"lr = 2/150","step":5500,"loss":3.86,"acc":0.13,"ece":0.027,"margin":-1.72,"sharp":31.7},
{"lr":"lr = 2/150","step":5750,"loss":3.87,"acc":0.13,"ece":0.027,"margin":-1.76,"sharp":32.7},
{"lr":"lr = 2/150","step":6000,"loss":3.89,"acc":0.129,"ece":0.028,"margin":-1.8,"sharp":34.2},
{"lr":"lr = 2/150","step":6250,"loss":3.9,"acc":0.128,"ece":0.032,"margin":-1.84,"sharp":35.7},
{"lr":"lr = 2/150","step":6500,"loss":3.9,"acc":0.127,"ece":0.036,"margin":-1.88,"sharp":37.1},
{"lr":"lr = 2/150","step":6750,"loss":3.92,"acc":0.126,"ece":0.042,"margin":-1.92,"sharp":39.4},
{"lr":"lr = 2/150","step":7000,"loss":3.94,"acc":0.125,"ece":0.052,"margin":-1.96,"sharp":41.6},
{"lr":"lr = 2/150","step":7250,"loss":3.97,"acc":0.125,"ece":0.055,"margin":-2.02,"sharp":43.1},
{"lr":"lr = 2/150","step":7500,"loss":4.0,"acc":0.125,"ece":0.06,"margin":-2.08,"sharp":45.2},
{"lr":"lr = 2/150","step":7750,"loss":4.01,"acc":0.124,"ece":0.062,"margin":-2.12,"sharp":47.0},
{"lr":"lr = 2/150","step":8000,"loss":4.02,"acc":0.124,"ece":0.064,"margin":-2.17,"sharp":48.8},
{"lr":"lr = 2/150","step":8250,"loss":4.03,"acc":0.124,"ece":0.07,"margin":-2.22,"sharp":49.9},
{"lr":"lr = 2/150","step":8500,"loss":4.06,"acc":0.123,"ece":0.078,"margin":-2.26,"sharp":50.9},
{"lr":"lr = 2/150","step":8750,"loss":4.1,"acc":0.123,"ece":0.085,"margin":-2.3,"sharp":53.1},
{"lr":"lr = 2/150","step":9000,"loss":4.14,"acc":0.124,"ece":0.091,"margin":-2.33,"sharp":55.1},
{"lr":"lr = 2/150","step":9250,"loss":4.19,"acc":0.124,"ece":0.1,"margin":-2.42,"sharp":55.9},
{"lr":"lr = 2/150","step":9500,"loss":4.23,"acc":0.125,"ece":0.111,"margin":-2.5,"sharp":57.3},
{"lr":"lr = 2/150","step":9750,"loss":4.26,"acc":0.124,"ece":0.118,"margin":-2.56,"sharp":59.4},
{"lr":"lr = 2/150","step":10000,"loss":4.29,"acc":0.124,"ece":0.115,"margin":-2.62,"sharp":62.0},
{"lr":"lr = 2/200","step":0,"loss":4.62,"acc":0,"ece":0,"margin":-0.1,"sharp":1.75},
{"lr":"lr = 2/200","step":100,"loss":4.58,"acc":0.02,"ece":0.025,"margin":-0.18,"sharp":1.82},
{"lr":"lr = 2/200","step":200,"loss":4.55,"acc":0.03,"ece":0.03,"margin":-0.28,"sharp":2.04},
{"lr":"lr = 2/200","step":300,"loss":4.5,"acc":0.04,"ece":0.03,"margin":-0.38,"sharp":2.59},
{"lr":"lr = 2/200","step":400,"loss":4.46,"acc":0.045,"ece":0.028,"margin":-0.48,"sharp":3.33},
{"lr":"lr = 2/200","step":500,"loss":4.42,"acc":0.05,"ece":0.028,"margin":-0.58,"sharp":4.15},
{"lr":"lr = 2/200","step":700,"loss":4.36,"acc":0.058,"ece":0.028,"margin":-0.78,"sharp":5.83},
{"lr":"lr = 2/200","step":1000,"loss":4.3,"acc":0.07,"ece":0.028,"margin":-0.96,"sharp":8.54},
{"lr":"lr = 2/200","step":1250,"loss":4.24,"acc":0.078,"ece":0.03,"margin":-1.02,"sharp":10.2},
{"lr":"lr = 2/200","step":1500,"loss":4.18,"acc":0.085,"ece":0.032,"margin":-1.07,"sharp":11.75},
{"lr":"lr = 2/200","step":1750,"loss":4.14,"acc":0.093,"ece":0.034,"margin":-1.1,"sharp":12.8},
{"lr":"lr = 2/200","step":2000,"loss":4.1,"acc":0.1,"ece":0.035,"margin":-1.14,"sharp":13.7},
{"lr":"lr = 2/200","step":2250,"loss":4.05,"acc":0.106,"ece":0.037,"margin":-1.17,"sharp":14.3},
{"lr":"lr = 2/200","step":2500,"loss":4.01,"acc":0.111,"ece":0.04,"margin":-1.19,"sharp":14.9},
{"lr":"lr = 2/200","step":2750,"loss":3.97,"acc":0.116,"ece":0.04,"margin":-1.23,"sharp":15.8},
{"lr":"lr = 2/200","step":3000,"loss":3.94,"acc":0.12,"ece":0.041,"margin":-1.26,"sharp":16.8},
{"lr":"lr = 2/200","step":3250,"loss":3.91,"acc":0.124,"ece":0.04,"margin":-1.28,"sharp":17.4},
{"lr":"lr = 2/200","step":3500,"loss":3.89,"acc":0.127,"ece":0.038,"margin":-1.31,"sharp":18.2},
{"lr":"lr = 2/200","step":3750,"loss":3.87,"acc":0.129,"ece":0.036,"margin":-1.34,"sharp":18.9},
{"lr":"lr = 2/200","step":4000,"loss":3.86,"acc":0.131,"ece":0.035,"margin":-1.36,"sharp":19.6},
{"lr":"lr = 2/200","step":4250,"loss":3.85,"acc":0.133,"ece":0.033,"margin":-1.38,"sharp":20.3},
{"lr":"lr = 2/200","step":4500,"loss":3.84,"acc":0.134,"ece":0.032,"margin":-1.41,"sharp":20.9},
{"lr":"lr = 2/200","step":4750,"loss":3.83,"acc":0.135,"ece":0.03,"margin":-1.44,"sharp":21.7},
{"lr":"lr = 2/200","step":5000,"loss":3.82,"acc":0.136,"ece":0.03,"margin":-1.46,"sharp":22.5},
{"lr":"lr = 2/200","step":5250,"loss":3.82,"acc":0.136,"ece":0.028,"margin":-1.48,"sharp":23.6},
{"lr":"lr = 2/200","step":5500,"loss":3.82,"acc":0.137,"ece":0.027,"margin":-1.5,"sharp":24.9},
{"lr":"lr = 2/200","step":5750,"loss":3.82,"acc":0.137,"ece":0.026,"margin":-1.53,"sharp":26.4},
{"lr":"lr = 2/200","step":6000,"loss":3.82,"acc":0.137,"ece":0.026,"margin":-1.56,"sharp":28.1},
{"lr":"lr = 2/200","step":6250,"loss":3.82,"acc":0.137,"ece":0.025,"margin":-1.58,"sharp":29.2},
{"lr":"lr = 2/200","step":6500,"loss":3.82,"acc":0.138,"ece":0.024,"margin":-1.61,"sharp":30.4},
{"lr":"lr = 2/200","step":6750,"loss":3.82,"acc":0.137,"ece":0.026,"margin":-1.65,"sharp":31.7},
{"lr":"lr = 2/200","step":7000,"loss":3.83,"acc":0.137,"ece":0.025,"margin":-1.68,"sharp":32.9},
{"lr":"lr = 2/200","step":7250,"loss":3.83,"acc":0.137,"ece":0.027,"margin":-1.71,"sharp":34.2},
{"lr":"lr = 2/200","step":7500,"loss":3.84,"acc":0.138,"ece":0.028,"margin":-1.73,"sharp":35.6},
{"lr":"lr = 2/200","step":7750,"loss":3.85,"acc":0.137,"ece":0.03,"margin":-1.76,"sharp":37.1},
{"lr":"lr = 2/200","step":8000,"loss":3.86,"acc":0.137,"ece":0.03,"margin":-1.78,"sharp":38.6},
{"lr":"lr = 2/200","step":8250,"loss":3.86,"acc":0.137,"ece":0.032,"margin":-1.81,"sharp":40.1},
{"lr":"lr = 2/200","step":8500,"loss":3.87,"acc":0.138,"ece":0.035,"margin":-1.84,"sharp":41.6},
{"lr":"lr = 2/200","step":8750,"loss":3.88,"acc":0.137,"ece":0.037,"margin":-1.87,"sharp":43.4},
{"lr":"lr = 2/200","step":9000,"loss":3.88,"acc":0.137,"ece":0.04,"margin":-1.9,"sharp":45.2},
{"lr":"lr = 2/200","step":9250,"loss":3.89,"acc":0.137,"ece":0.045,"margin":-1.94,"sharp":47.0},
{"lr":"lr = 2/200","step":9500,"loss":3.9,"acc":0.137,"ece":0.05,"margin":-1.98,"sharp":48.8},
{"lr":"lr = 2/200","step":9750,"loss":3.91,"acc":0.138,"ece":0.058,"margin":-2.03,"sharp":50.9},
{"lr":"lr = 2/200","step":10000,"loss":3.92,"acc":0.137,"ece":0.055,"margin":-2.06,"sharp":53.0}
]
},
"hconcat": [
{
 "concat": [
  {
   "title": "Loss & Accuracy", "width": 219, "height": 166, "data": {"name": "A"},
   "encoding": {"x": {"field": "step", "type": "quantitative", "title": "Step", "scale": {"domain": [0, 10000], "nice": false, "zero": false}, "axis": {"values": [0, 2000, 4000, 6000, 8000, 10000], "format": "d"}}},
   "layer": [
    {"mark": {"type": "line", "strokeWidth": 1.5},
     "encoding": {"y": {"field": "acc", "type": "quantitative", "title": "Accuracy (solid)", "scale": {"domain": [0, 1.052], "nice": false, "zero": false}, "axis": {"orient": "right", "values": [0, 0.2, 0.4, 0.6, 0.8, 1], "format": ".1f", "titleColor": "#777", "titleAngle": 270, "titleBaseline": "top", "titlePadding": 6, "grid": true}},
      "color": {"field": "lr", "type": "nominal", "scale": {"domain": ["lr = 2/50", "lr = 2/100", "lr = 2/150", "lr = 2/200"], "range": ["#1f77b4", "#ff7f0e", "#2ca02c", "#d62728"]}, "legend": {"title": null}}}},
    {"mark": {"type": "line", "strokeWidth": 1.5, "strokeDash": [5.5, 2.4]},
     "encoding": {"y": {"field": "loss", "type": "quantitative", "title": "Loss (dashed)", "scale": {"type": "log", "domain": [0.02, 6.04], "nice": false}, "axis": {"orient": "left", "values": [0.1, 1], "labelExpr": "datum.value >= 1 ? '10⁰' : '10⁻¹'", "titleColor": "#777", "titlePadding": 11, "grid": true}},
      "color": {"field": "lr", "type": "nominal", "scale": {"domain": ["lr = 2/50", "lr = 2/100", "lr = 2/150", "lr = 2/200"], "range": ["#1f77b4", "#ff7f0e", "#2ca02c", "#d62728"]}, "legend": {"title": null}}}},
    {"mark": {"type": "line", "opacity": 0},
     "encoding": {"y": {"field": "loss", "type": "quantitative", "title": null, "scale": {"type": "log", "domain": [0.02, 6.04], "nice": false}, "axis": {"orient": "left", "values": [0.02, 0.03, 0.04, 0.05, 0.06, 0.07, 0.08, 0.09, 0.2, 0.3, 0.4, 0.5, 0.6, 0.7, 0.8, 0.9, 2, 3, 4, 5, 6], "labels": false, "title": null, "grid": false, "tickSize": 2.5}}, "detail": {"field": "lr"}}}
   ],
   "resolve": {"scale": {"y": "independent"}}
  },
  {
   "title": "Expected Calibration Error", "width": 219, "height": 166, "data": {"name": "A"},
   "mark": {"type": "line", "strokeWidth": 1.5},
   "encoding": {
    "x": {"field": "step", "type": "quantitative", "title": "Step", "scale": {"domain": [0, 10000], "nice": false, "zero": false}, "axis": {"values": [0, 2000, 4000, 6000, 8000, 10000], "format": "d"}},
    "y": {"field": "ece", "type": "quantitative", "title": "ECE", "scale": {"domain": [-0.015, 0.404], "nice": false, "zero": false}, "axis": {"values": [0, 0.1, 0.2, 0.3, 0.4], "format": ".1f"}},
    "color": {"field": "lr", "type": "nominal", "scale": {"domain": ["lr = 2/50", "lr = 2/100", "lr = 2/150", "lr = 2/200"], "range": ["#1f77b4", "#ff7f0e", "#2ca02c", "#d62728"]}, "legend": {"title": null}}
   }
  },
  {
   "title": "Margin", "width": 219, "height": 166, "data": {"name": "A"},
   "mark": {"type": "line", "strokeWidth": 1.5},
   "encoding": {
    "x": {"field": "step", "type": "quantitative", "title": "Step", "scale": {"domain": [0, 10000], "nice": false, "zero": false}, "axis": {"values": [0, 2000, 4000, 6000, 8000, 10000], "format": "d"}},
    "y": {"field": "margin", "type": "quantitative", "title": "Margin", "scale": {"domain": [-1.22, 5.4], "nice": false, "zero": false}, "axis": {"values": [0, 2, 4], "format": "d"}},
    "color": {"field": "lr", "type": "nominal", "scale": {"domain": ["lr = 2/50", "lr = 2/100", "lr = 2/150", "lr = 2/200"], "range": ["#1f77b4", "#ff7f0e", "#2ca02c", "#d62728"]}, "legend": {"title": null}}
   }
  },
  {
   "title": "Sharpness", "width": 219, "height": 166, "data": {"name": "A"},
   "encoding": {"x": {"field": "step", "type": "quantitative", "title": "Step", "scale": {"domain": [0, 10000], "nice": false, "zero": false}, "axis": {"values": [0, 2000, 4000, 6000, 8000, 10000], "format": "d"}}},
   "layer": [
    {"mark": {"type": "line", "strokeWidth": 1.5},
     "encoding": {"y": {"field": "sharp", "type": "quantitative", "title": "Sharpness", "scale": {"type": "log", "domain": [1.3, 72], "nice": false}, "axis": {"orient": "left", "values": [10], "labelExpr": "'10¹'"}},
      "color": {"field": "lr", "type": "nominal", "scale": {"domain": ["lr = 2/50", "lr = 2/100", "lr = 2/150", "lr = 2/200"], "range": ["#1f77b4", "#ff7f0e", "#2ca02c", "#d62728"]}, "legend": {"title": null}}}},
    {"mark": {"type": "line", "opacity": 0},
     "encoding": {"y": {"field": "sharp", "type": "quantitative", "title": null, "scale": {"type": "log", "domain": [1.3, 72], "nice": false}, "axis": {"orient": "left", "values": [2, 3, 4, 5, 6, 7, 8, 9, 20, 30, 40, 50, 60, 70], "labels": false, "title": null, "grid": false, "tickSize": 2.5}}, "detail": {"field": "lr"}}}
   ],
   "resolve": {"scale": {"y": "independent"}}
  }
 ],
 "columns": 2, "bounds": "flush", "spacing": {"row": 71, "column": 100}
},
{
 "concat": [
  {
   "title": "Loss & Accuracy", "width": 214, "height": 166, "data": {"name": "B"},
   "encoding": {"x": {"field": "step", "type": "quantitative", "title": "Step", "scale": {"domain": [0, 10000], "nice": false, "zero": false}, "axis": {"values": [0, 2500, 5000, 7500, 10000], "format": "d"}}},
   "layer": [
    {"mark": {"type": "line", "strokeWidth": 1.5},
     "encoding": {"y": {"field": "acc", "type": "quantitative", "title": "Accuracy (solid)", "scale": {"domain": [0, 1.053], "nice": false, "zero": false}, "axis": {"orient": "right", "values": [0, 0.2, 0.4, 0.6, 0.8, 1], "format": ".1f", "titleColor": "#777", "titleAngle": 270, "titleBaseline": "top", "titlePadding": 6, "grid": true}},
      "color": {"field": "lr", "type": "nominal", "scale": {"domain": ["lr = 2/50", "lr = 2/100", "lr = 2/150", "lr = 2/200"], "range": ["#1f77b4", "#ff7f0e", "#2ca02c", "#d62728"]}, "legend": {"title": null}}}},
    {"mark": {"type": "line", "strokeWidth": 1.5, "strokeDash": [5.5, 2.4]},
     "encoding": {"y": {"field": "loss", "type": "quantitative", "title": "Loss (dashed)", "scale": {"type": "log", "domain": [3.74, 6.08], "nice": false}, "axis": {"orient": "left", "values": [4, 5, 6], "labelExpr": "datum.value + ' × 10⁰'", "titleColor": "#777", "grid": false, "tickSize": 3}},
      "color": {"field": "lr", "type": "nominal", "scale": {"domain": ["lr = 2/50", "lr = 2/100", "lr = 2/150", "lr = 2/200"], "range": ["#1f77b4", "#ff7f0e", "#2ca02c", "#d62728"]}, "legend": {"title": null}}}}
   ],
   "resolve": {"scale": {"y": "independent"}}
  },
  {
   "title": "Expected Calibration Error", "width": 214, "height": 166, "data": {"name": "B"},
   "mark": {"type": "line", "strokeWidth": 1.5},
   "encoding": {
    "x": {"field": "step", "type": "quantitative", "title": "Step", "scale": {"domain": [0, 10000], "nice": false, "zero": false}, "axis": {"values": [0, 2500, 5000, 7500, 10000], "format": "d"}},
    "y": {"field": "ece", "type": "quantitative", "title": "ECE", "scale": {"domain": [-0.0135, 0.379], "nice": false, "zero": false}, "axis": {"values": [0, 0.1, 0.2, 0.3], "format": ".1f"}},
    "color": {"field": "lr", "type": "nominal", "scale": {"domain": ["lr = 2/50", "lr = 2/100", "lr = 2/150", "lr = 2/200"], "range": ["#1f77b4", "#ff7f0e", "#2ca02c", "#d62728"]}, "legend": {"title": null}}
   }
  },
  {
   "title": "Margin", "width": 214, "height": 166, "data": {"name": "B"},
   "mark": {"type": "line", "strokeWidth": 1.5},
   "encoding": {
    "x": {"field": "step", "type": "quantitative", "title": "Step", "scale": {"domain": [0, 10000], "nice": false, "zero": false}, "axis": {"values": [0, 2500, 5000, 7500, 10000], "format": "d"}},
    "y": {"field": "margin", "type": "quantitative", "title": "Margin", "scale": {"domain": [-5.12, 0.115], "nice": false, "zero": false}, "axis": {"values": [-5, -4, -3, -2, -1, 0], "format": "d"}},
    "color": {"field": "lr", "type": "nominal", "scale": {"domain": ["lr = 2/50", "lr = 2/100", "lr = 2/150", "lr = 2/200"], "range": ["#1f77b4", "#ff7f0e", "#2ca02c", "#d62728"]}, "legend": {"title": null}}
   }
  },
  {
   "title": "Sharpness", "width": 214, "height": 166, "data": {"name": "B"},
   "encoding": {"x": {"field": "step", "type": "quantitative", "title": "Step", "scale": {"domain": [0, 10000], "nice": false, "zero": false}, "axis": {"values": [0, 2500, 5000, 7500, 10000], "format": "d"}}},
   "layer": [
    {"mark": {"type": "line", "strokeWidth": 1.5},
     "encoding": {"y": {"field": "sharp", "type": "quantitative", "title": "Sharpness", "scale": {"type": "log", "domain": [1.46, 77], "nice": false}, "axis": {"orient": "left", "values": [10], "labelExpr": "'10¹'"}},
      "color": {"field": "lr", "type": "nominal", "scale": {"domain": ["lr = 2/50", "lr = 2/100", "lr = 2/150", "lr = 2/200"], "range": ["#1f77b4", "#ff7f0e", "#2ca02c", "#d62728"]}, "legend": {"title": null}}}},
    {"mark": {"type": "line", "opacity": 0},
     "encoding": {"y": {"field": "sharp", "type": "quantitative", "title": null, "scale": {"type": "log", "domain": [1.46, 77], "nice": false}, "axis": {"orient": "left", "values": [2, 3, 4, 5, 6, 7, 8, 9, 20, 30, 40, 50, 60, 70], "labels": false, "title": null, "grid": false, "tickSize": 2.5}}, "detail": {"field": "lr"}}}
   ],
   "resolve": {"scale": {"y": "independent"}}
  }
 ],
 "columns": 2, "bounds": "flush", "spacing": {"row": 71, "column": 100}
}
],
"spacing": 70,
"resolve": {"scale": {"color": "independent"}}
}
